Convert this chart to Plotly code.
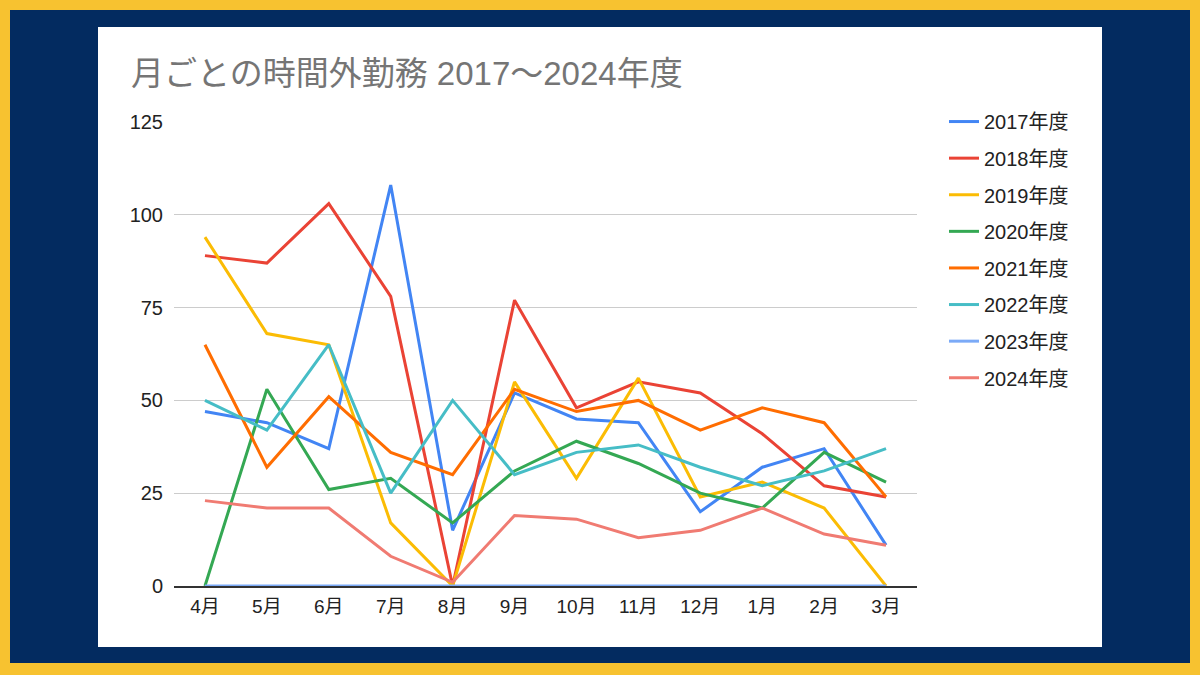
import plotly.graph_objects as go

# 月ごとの時間外勤務（時間）
months = ["4月", "5月", "6月", "7月", "8月", "9月", "10月", "11月", "12月", "1月", "2月", "3月"]

fy2017 = [47, 44, 37, 108, 15, 52, 45, 44, 20, 32, 37, 11]
fy2018 = [89, 87, 103, 78, 0, 77, 48, 55, 52, 41, 27, 24]
fy2019 = [94, 68, 65, 17, 0, 55, 29, 56, 24, 28, 21, 0]
fy2020 = [0, 53, 26, 29, 17, 31, 39, 33, 25, 21, 36, 28]
fy2021 = [65, 32, 51, 36, 30, 53, 47, 50, 42, 48, 44, 24]
fy2022 = [50, 42, 65, 25, 50, 30, 36, 38, 32, 27, 31, 37]
fy2023 = [0, 0, 0, 0, 0, 0, 0, 0, 0, 0, 0, 0]
fy2024 = [23, 21, 21, 8, 1, 19, 18, 13, 15, 21, 14, 11]

series = [
    ("2017年度", fy2017, "#4285F4"),
    ("2018年度", fy2018, "#EA4335"),
    ("2019年度", fy2019, "#FBBC04"),
    ("2020年度", fy2020, "#34A853"),
    ("2021年度", fy2021, "#FF6D01"),
    ("2022年度", fy2022, "#46BDC6"),
    ("2023年度", fy2023, "#7BAAF7"),
    ("2024年度", fy2024, "#F07B72"),
]

FONT = "Arial, 'Liberation Sans', 'Noto Sans CJK JP', sans-serif"
W, H = 1200, 675
L, R, T, B = 174, 283, 122, 89
pw, ph = W - L - R, H - T - B


def px_x(x):
    return (x - L) / pw


def px_y(y):
    return (H - B - y) / ph


fig = go.Figure()
for name, vals, col in series:
    fig.add_trace(go.Scatter(
        x=months, y=vals, name=name, mode="lines",
        line=dict(color=col, width=3),
        legendgroup=name,
    ))

# 背景：黄色の枠・紺・白いカード
fig.add_shape(type="rect", xref="paper", yref="paper", layer="below",
              x0=px_x(10), x1=px_x(1190), y0=px_y(663), y1=px_y(10),
              fillcolor="#032B60", line_width=0)
fig.add_shape(type="rect", xref="paper", yref="paper", layer="below",
              x0=px_x(98), x1=px_x(1102), y0=px_y(647), y1=px_y(27),
              fillcolor="white", line_width=0)

fig.update_layout(
    width=W, height=H,
    margin=dict(l=L, r=R, t=T, b=B),
    paper_bgcolor="#F7C230",
    plot_bgcolor="white",
    font=dict(family=FONT, size=20, color="#222222"),
    title=dict(text="月ごとの時間外勤務 2017～2024年度",
               font=dict(size=33, color="#757575", family=FONT),
               xref="container", yref="container",
               x=131 / W, xanchor="left", y=1 - 73 / H, yanchor="middle"),
    legend=dict(x=px_x(944), xanchor="left", y=1.043, yanchor="top",
                font=dict(size=20, color="#222222"),
                tracegroupgap=7.6, bgcolor="rgba(0,0,0,0)"),
    showlegend=True,
)

fig.update_xaxes(range=[-0.5, 11.5], showgrid=False, showline=True,
                 linecolor="#333333", linewidth=2,
                 layer="above traces", ticks="", ticklabelstandoff=2,
                 tickfont=dict(size=19))
fig.update_yaxes(range=[0, 125], tickvals=[0, 25, 50, 75, 100, 125],
                 showgrid=True, gridcolor="#CCCCCC", gridwidth=1,
                 zeroline=False, showline=False, ticks="", ticklabelstandoff=10,
                 tickfont=dict(size=20))

fig.write_html("out.html", config={"displayModeBar": False},
               post_script="document.body.style.margin='0';")
